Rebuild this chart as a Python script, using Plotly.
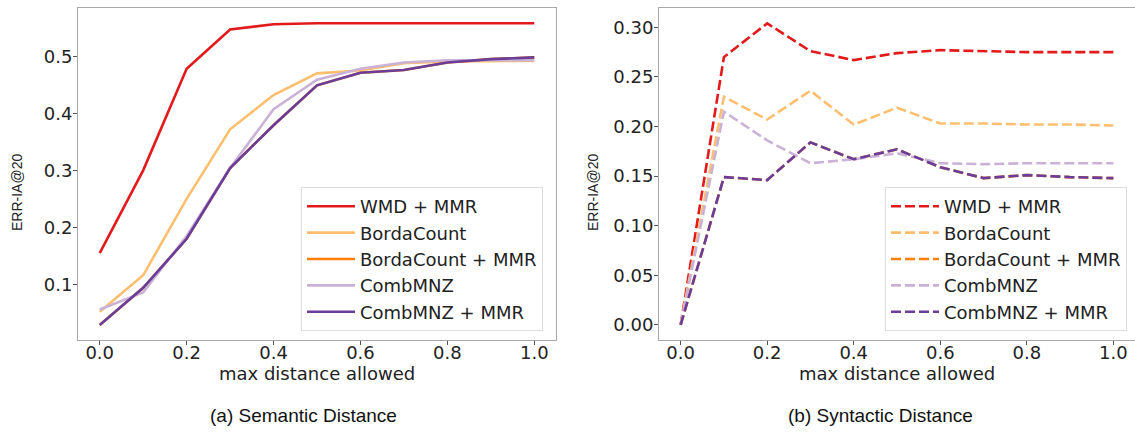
import plotly.graph_objects as go

x_vals = [0.0, 0.1, 0.2, 0.3, 0.4, 0.5, 0.6, 0.7, 0.8, 0.9, 1.0]
series_names = ["WMD + MMR", "BordaCount", "BordaCount + MMR", "CombMNZ", "CombMNZ + MMR"]
colors = ["#e31a1c", "#fdbf6f", "#ff7f00", "#cab2d6", "#6a3d9a"]

# (a) Semantic distance
sem_wmd_mmr = [0.156, 0.301, 0.479, 0.548, 0.557, 0.559, 0.559, 0.559, 0.559, 0.559, 0.559]
sem_borda = [0.053, 0.117, 0.251, 0.373, 0.433, 0.471, 0.476, 0.489, 0.492, 0.493, 0.493]
sem_borda_mmr = [0.030, 0.095, 0.181, 0.305, 0.380, 0.450, 0.472, 0.477, 0.490, 0.496, 0.499]
sem_combmnz = [0.057, 0.087, 0.186, 0.305, 0.408, 0.460, 0.479, 0.490, 0.494, 0.494, 0.494]
sem_combmnz_mmr = [0.030, 0.095, 0.181, 0.305, 0.380, 0.450, 0.472, 0.477, 0.490, 0.496, 0.499]

# (b) Syntactic distance
syn_wmd_mmr = [0.0, 0.270, 0.304, 0.276, 0.267, 0.274, 0.277, 0.276, 0.275, 0.275, 0.275]
syn_borda = [0.0, 0.230, 0.207, 0.236, 0.202, 0.219, 0.203, 0.203, 0.202, 0.202, 0.201]
syn_borda_mmr = [0.0, 0.149, 0.146, 0.184, 0.167, 0.177, 0.159, 0.148, 0.151, 0.149, 0.148]
syn_combmnz = [0.0, 0.215, 0.186, 0.163, 0.167, 0.173, 0.163, 0.162, 0.163, 0.163, 0.163]
syn_combmnz_mmr = [0.0, 0.149, 0.146, 0.184, 0.167, 0.177, 0.159, 0.148, 0.151, 0.149, 0.148]

sem_series = [sem_wmd_mmr, sem_borda, sem_borda_mmr, sem_combmnz, sem_combmnz_mmr]
syn_series = [syn_wmd_mmr, syn_borda, syn_borda_mmr, syn_combmnz, syn_combmnz_mmr]

x_ticks = [0.0, 0.2, 0.4, 0.6, 0.8, 1.0]
x_ticklabels = ["0.0", "0.2", "0.4", "0.6", "0.8", "1.0"]
sem_yticks = [0.1, 0.2, 0.3, 0.4, 0.5]
sem_yticklabels = ["0.1", "0.2", "0.3", "0.4", "0.5"]
syn_yticks = [0.0, 0.05, 0.10, 0.15, 0.20, 0.25, 0.30]
syn_yticklabels = ["0.00", "0.05", "0.10", "0.15", "0.20", "0.25", "0.30"]

W, H = 1135, 435
TICK_FONT = dict(family="DejaVu Sans", size=18, color="#222222")
LEG_FONT = dict(family="DejaVu Sans", size=18, color="#222222")

fig = go.Figure()
for name, ys, c in zip(series_names, sem_series, colors):
    fig.add_trace(go.Scatter(x=x_vals, y=ys, mode="lines", name=name,
                             line=dict(color=c, width=2.6),
                             xaxis="x", yaxis="y", legend="legend"))
for name, ys, c in zip(series_names, syn_series, colors):
    fig.add_trace(go.Scatter(x=x_vals, y=ys, mode="lines", name=name,
                             line=dict(color=c, width=2.6, dash="10px,4px"),
                             xaxis="x2", yaxis="y2", legend="legend2"))

axis_common = dict(showline=True, mirror=True, linecolor="#a8a8a8", linewidth=1,
                   ticks="outside", ticklen=4, tickcolor="#555555", tickwidth=1,
                   showgrid=False, zeroline=False, tickfont=TICK_FONT)

ydom = [1 - 340 / H, 1 - 7.5 / H]
fig.update_layout(
    width=W, height=H, margin=dict(l=0, r=0, t=0, b=0, autoexpand=False),
    paper_bgcolor="white", plot_bgcolor="white",
    xaxis=dict(domain=[78 / W, 556 / W], range=[-0.05, 1.05], ticklabelstandoff=-8,
               tickvals=x_ticks, ticktext=x_ticklabels, anchor="y", **axis_common),
    yaxis=dict(domain=ydom, range=[0.0035, 0.5865], ticklabelstandoff=-3,
               tickvals=sem_yticks, ticktext=sem_yticklabels, anchor="x", **axis_common),
    xaxis2=dict(domain=[659 / W, 1.0], range=[-0.05, 1.05], ticklabelstandoff=-8,
                tickvals=x_ticks, ticktext=x_ticklabels, anchor="y2", **axis_common),
    yaxis2=dict(domain=ydom, range=[-0.01525, 0.32], ticklabelstandoff=-3,
                tickvals=syn_yticks, ticktext=syn_yticklabels, anchor="x2", **axis_common),
    legend=dict(x=543 / W, xanchor="right", y=1 - 187 / H, yanchor="top",
                bgcolor="white", bordercolor="#dddddd", borderwidth=1, font=LEG_FONT,
                itemwidth=48),
    legend2=dict(x=1127 / W, xanchor="right", y=1 - 187 / H, yanchor="top",
                 bgcolor="white", bordercolor="#dddddd", borderwidth=1, font=LEG_FONT,
                 itemwidth=48),
    showlegend=True,
)

annotations = [
    dict(text="max distance allowed", x=(78 + 556) / 2 / W, y=1 - 373 / H,
         font=dict(family="DejaVu Sans", size=18, color="#222222")),
    dict(text="max distance allowed", x=(659 + 1135) / 2 / W, y=1 - 373 / H,
         font=dict(family="DejaVu Sans", size=18, color="#222222")),
    dict(text="ERR-IA@20", x=17 / W, y=1 - 193 / H, textangle=-90,
         font=dict(family="Liberation Sans", size=14, color="#222222")),
    dict(text="ERR-IA@20", x=593 / W, y=1 - 193 / H, textangle=-90,
         font=dict(family="Liberation Sans", size=14, color="#222222")),
    dict(text="(a) Semantic Distance", x=303 / W, y=1 - 415 / H,
         font=dict(family="Liberation Sans", size=19, color="#111111")),
    dict(text="(b) Syntactic Distance", x=880 / W, y=1 - 415 / H,
         font=dict(family="Liberation Sans", size=19, color="#111111")),
]
for a in annotations:
    a.update(xref="paper", yref="paper", showarrow=False, xanchor="center", yanchor="middle")
fig.update_layout(annotations=annotations)

fig.write_html("out.html", config={"displayModeBar": False},
               post_script="document.body.style.margin='0';document.body.style.overflow='hidden';")
